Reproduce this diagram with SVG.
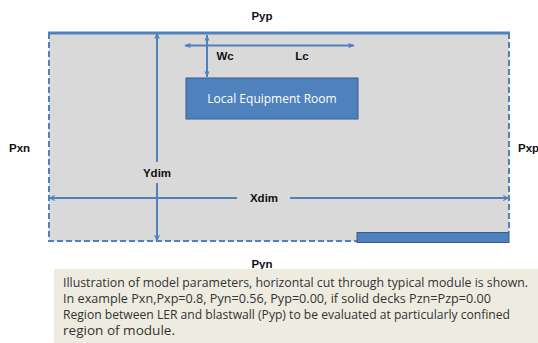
<svg xmlns="http://www.w3.org/2000/svg" width="538" height="343" viewBox="0 0 538 343">
  <style>
    .lbl { font-family: "Liberation Sans", Arial, sans-serif; font-weight: bold; font-size: 11.5px; fill: #111; }
    .dim { stroke: #4f81bd; stroke-width: 2; fill: none; }
    .note { font-family: "Open Sans", "Liberation Sans", sans-serif; font-size: 12.5px; fill: #333; }
  </style>
  <defs>
    <marker id="open" viewBox="0 0 10 10" refX="9" refY="5" markerWidth="6" markerHeight="6" orient="auto-start-reverse" markerUnits="userSpaceOnUse">
      <path d="M1,1 L9,5 L1,9" fill="none" stroke="#4f81bd" stroke-width="1.8"/>
    </marker>
    <marker id="solid" viewBox="0 0 10 10" refX="9" refY="5" markerWidth="7" markerHeight="6" orient="auto-start-reverse" markerUnits="userSpaceOnUse">
      <path d="M0,1 L10,5 L0,9 Z" fill="#4f81bd"/>
    </marker>
  </defs>

  <!-- module plan area -->
  <g id="module">
    <rect x="49" y="33" width="460" height="208" fill="#d9d9d9"/>
    <path d="M49,33 V241 H357" fill="none" stroke="#4f81bd" stroke-width="2" stroke-dasharray="6,3"/>
    <path d="M509,33 V232" fill="none" stroke="#4f81bd" stroke-width="2" stroke-dasharray="6,3"/>
    <line x1="48" y1="33" x2="510" y2="33" stroke="#4f81bd" stroke-width="3"/>
  </g>

  <!-- blastwall segment -->
  <g id="blastwall">
    <rect x="357" y="232.5" width="152" height="10" fill="#4f81bd" stroke="#385d8a" stroke-width="1"/>
  </g>

  <!-- local equipment room -->
  <g id="ler">
    <rect x="186" y="78" width="172" height="41" fill="#4f81bd" stroke="#385d8a" stroke-width="1"/>
    <text x="272" y="102.5" text-anchor="middle" font-family="Open Sans, Liberation Sans, sans-serif" font-size="12" fill="#ffffff">Local Equipment Room</text>
  </g>

  <!-- dimension connectors -->
  <g id="connectors">
    <line class="dim" x1="157" y1="162" x2="157" y2="34" marker-end="url(#open)"/>
    <line class="dim" x1="157" y1="183" x2="157" y2="240" marker-end="url(#open)"/>
    <line class="dim" x1="237" y1="198" x2="50" y2="198" marker-end="url(#open)"/>
    <line class="dim" x1="290" y1="198" x2="508" y2="198" marker-end="url(#open)"/>
    <line class="dim" x1="207" y1="35" x2="207" y2="77" stroke-width="1.5" marker-start="url(#solid)" marker-end="url(#solid)"/>
    <line class="dim" x1="185" y1="45.5" x2="354" y2="45.5" stroke-width="1.5" marker-start="url(#solid)" marker-end="url(#solid)"/>
  </g>

  <!-- parameter labels -->
  <g id="labels">
    <text class="lbl" x="262" y="20" text-anchor="middle">Pyp</text>
    <text class="lbl" x="262" y="268" text-anchor="middle">Pyn</text>
    <text class="lbl" x="9" y="152">Pxn</text>
    <text class="lbl" x="518" y="152">Pxp</text>
    <text class="lbl" x="157" y="177" text-anchor="middle">Ydim</text>
    <text class="lbl" x="264" y="202" text-anchor="middle">Xdim</text>
    <text class="lbl" x="225" y="60" text-anchor="middle">Wc</text>
    <text class="lbl" x="302" y="60" text-anchor="middle">Lc</text>
  </g>

  <!-- explanatory note -->
  <g id="note">
    <rect x="54" y="269" width="484" height="74" fill="#eeece1"/>
    <text class="note" x="63" y="287" textLength="465" lengthAdjust="spacingAndGlyphs">Illustration of model parameters, horizontal cut through typical module is shown.</text>
    <text class="note" x="63" y="303" textLength="428" lengthAdjust="spacingAndGlyphs">In example  Pxn,Pxp=0.8, Pyn=0.56, Pyp=0.00, if solid decks Pzn=Pzp=0.00</text>
    <text class="note" x="63" y="319" textLength="447" lengthAdjust="spacingAndGlyphs">Region between LER and blastwall (Pyp) to be evaluated at particularly confined</text>
    <text class="note" x="63" y="335" textLength="112" lengthAdjust="spacingAndGlyphs">region of module.</text>
  </g>
</svg>
